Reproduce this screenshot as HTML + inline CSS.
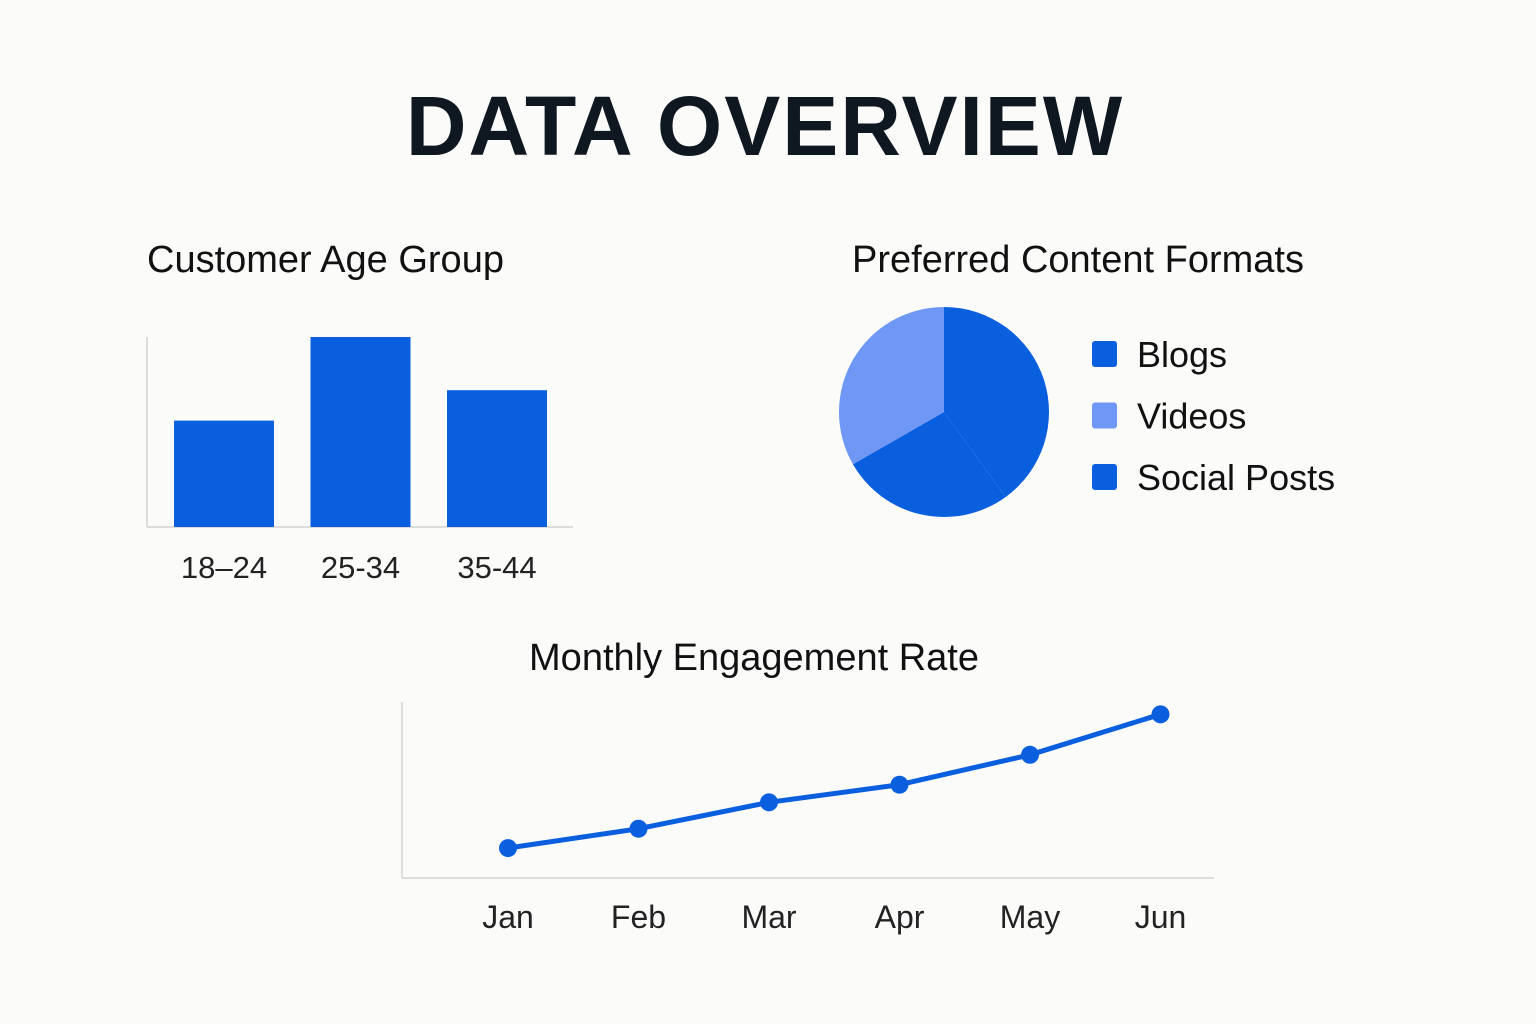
<!DOCTYPE html>
<html><head><meta charset="utf-8"><style>
html,body{margin:0;padding:0;background:#fbfbfa;}
svg{display:block;font-family:"Liberation Sans",sans-serif;}
</style></head><body>
<svg id="chart" width="1536" height="1024" viewBox="0 0 1536 1024" xmlns="http://www.w3.org/2000/svg">
<rect width="1536" height="1024" fill="#fbfbfa"/>
<text x="765" y="155" text-anchor="middle" font-size="84" font-weight="bold" fill="#0f1720" letter-spacing="2">DATA OVERVIEW</text>
<text x="147" y="272" font-size="38" fill="#111">Customer Age Group</text>
<text x="852" y="272" font-size="38" fill="#111">Preferred Content Formats</text>
<text x="754" y="670" text-anchor="middle" font-size="38" fill="#111">Monthly Engagement Rate</text>
<g id="bars"></g><g id="pie"></g><g id="line"></g>
</svg>
<script>
const ageCategories = ["18\u201324", "25-34", "35-44"];
const ageValues = [56, 100, 72];
const formatLabels = ["Blogs", "Videos", "Social Posts"];
const formatValues = [40, 33.3, 26.7];
const months = ["Jan", "Feb", "Mar", "Apr", "May", "Jun"];
const engagement = [17, 28, 43, 53, 70, 93];

const NS = "http://www.w3.org/2000/svg";
function mk(tag, attrs, parent){const e=document.createElementNS(NS,tag);for(const k in attrs)e.setAttribute(k,attrs[k]);parent.appendChild(e);return e;}
const BLUE="#0a5fdf", LIGHT="#6f97f6";

// Bar chart
const bg=document.getElementById("bars");
const bx0=147, bBase=527, bTop=337, bMax=100;
const by=v=>bBase-(v/bMax)*(bBase-bTop);
const bx=i=>174+i*136.5;
let a=mk("line",{x1:bx0,y1:bTop,x2:bx0,y2:bBase,stroke:"#ddd","stroke-width":2},bg);


a=mk("line",{x1:bx0,y1:bBase,x2:573,y2:bBase,stroke:"#ddd","stroke-width":2},bg);


ageValues.forEach((v,i)=>{
  const r=mk("rect",{x:bx(i),y:by(v),width:100,height:bBase-by(v),fill:BLUE},bg);
  
  
  const t=mk("text",{x:bx(i)+50,y:578,"text-anchor":"middle","font-size":31,fill:"#222"},bg);
  t.textContent=ageCategories[i];
  
  
});

// Pie
const pg=document.getElementById("pie");
const cx=944, cy=412, R=105;
const total=formatValues.reduce((s,v)=>s+v,0);
const colors=[BLUE,LIGHT,BLUE];
const order=[0,2,1];
let ang=0;
order.forEach(i=>{
  const sweep=formatValues[i]/total*2*Math.PI;
  const a0=ang, a1=ang+sweep; ang=a1;
  const p=(t)=>[cx+R*Math.sin(t), cy-R*Math.cos(t)];
  const [x0,y0]=p(a0),[x1,y1]=p(a1);
  const s=mk("path",{d:`M${cx},${cy} L${x0},${y0} A${R},${R} 0 ${sweep>Math.PI?1:0} 1 ${x1},${y1} Z`,fill:colors[i]},pg);
  
  
});
formatLabels.forEach((l,i)=>{
  const y=341+i*61.5;
  const r=mk("rect",{x:1092,y:y,width:25,height:26,rx:3,fill:colors[i]},pg);
  
  
  const t=mk("text",{x:1137,y:y+26,"font-size":36,fill:"#111"},pg);
  t.textContent=l;
  
  
});

// Line
const lg=document.getElementById("line");
const lBase=878, lTop=702, lMax=100;
const ly=v=>lBase-(v/lMax)*(lBase-lTop);
const lx=i=>508+i*130.5;
a=mk("line",{x1:402,y1:lTop,x2:402,y2:lBase,stroke:"#ddd","stroke-width":2},lg);


a=mk("line",{x1:402,y1:lBase,x2:1214,y2:lBase,stroke:"#ddd","stroke-width":2},lg);


const pl=mk("polyline",{points:engagement.map((v,i)=>lx(i)+","+ly(v)).join(" "),fill:"none",stroke:BLUE,"stroke-width":5,"stroke-linejoin":"round"},lg);


engagement.forEach((v,i)=>{
  const c=mk("circle",{cx:lx(i),cy:ly(v),r:9,fill:BLUE},lg);
  
  
  const t=mk("text",{x:lx(i),y:928,"text-anchor":"middle","font-size":32,fill:"#222"},lg);
  t.textContent=months[i];
  
  
});
</script>
</body></html>
